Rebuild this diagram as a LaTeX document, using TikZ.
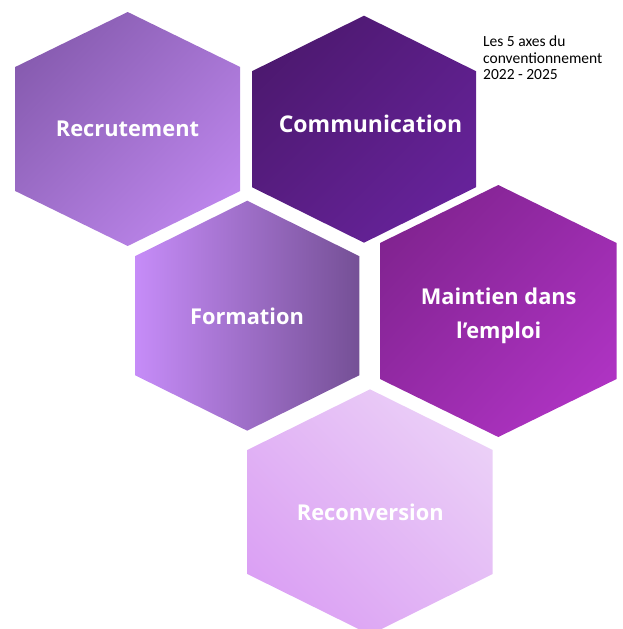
\documentclass[tikz,border=0pt]{standalone}
\usepackage{fontspec}
\usetikzlibrary{shadings}
\setmainfont{Open Sans}
\newfontfamily\notefont{Carlito}
\definecolor{hAul}{HTML}{7E54A6}
\definecolor{hAmid}{HTML}{A272CE}
\definecolor{hAlr}{HTML}{C68CF6}
\definecolor{hBul}{HTML}{481768}
\definecolor{hBmid}{HTML}{5A1E85}
\definecolor{hBlr}{HTML}{6B24A2}
\definecolor{hCl}{HTML}{C68CF8}
\definecolor{hCr}{HTML}{755096}
\definecolor{hDul}{HTML}{7A2188}
\definecolor{hDmid}{HTML}{982BAA}
\definecolor{hDlr}{HTML}{B636CB}
\definecolor{hEur}{HTML}{EED8F8}
\definecolor{hEmid}{HTML}{E3B8F5}
\definecolor{hEll}{HTML}{D898F3}
\newcommand\hexpath[5]{(#1,#2-#4) -- (#1+#3,#2-#5) -- (#1+#3,#2+#5) -- (#1,#2+#4) -- (#1-#3,#2+#5) -- (#1-#3,#2-#5) -- cycle}
\tikzset{
  hexlabel/.style={text=white, font=\fontsize{21.8}{34}\selectfont\bfseries, inner sep=0pt, align=center},
  notelabel/.style={text=black, font=\notefont\fontsize{15.5}{16.7}\selectfont, inner sep=0pt, align=left}
}
\begin{document}
\begin{tikzpicture}[x=1pt,y=-1pt]
\useasboundingbox (0,0) rectangle (623,629);
\clip (0,0) rectangle (623,629);
\shade[upper left=hAul, upper right=hAmid, lower left=hAmid, lower right=hAlr] \hexpath{127.7}{129}{112.5}{117}{62};
\shade[upper left=hBul, upper right=hBmid, lower left=hBmid, lower right=hBlr] \hexpath{364}{129.2}{112}{113.5}{58};
\shade[left color=hCl, right color=hCr] \hexpath{247.2}{315.7}{112.2}{115}{59.5};
\shade[upper left=hDul, upper right=hDmid, lower left=hDmid, lower right=hDlr] \hexpath{498.3}{311}{118.3}{126}{68};
\shade[upper left=hEmid, upper right=hEur, lower left=hEll, lower right=hEmid] \hexpath{370}{512}{122.7}{122.7}{62};
\node[hexlabel, anchor=base] (recrutement) at (127.5,136.7) {Recrutement};
\node[hexlabel, anchor=base, font=\fontsize{23}{34}\selectfont\bfseries] (communication) at (370.5,132.7) {Communication};
\node[hexlabel, anchor=base] (formation) at (247,324) {Formation};
\node[hexlabel, anchor=center] (maintien) at (498.7,315.7) {Maintien dans\\l’emploi};
\node[hexlabel, anchor=base] (reconversion) at (370.3,520.7) {Reconversion};
\node[notelabel, anchor=north west] (note) at (483,35.5) {Les 5 axes du\\conventionnement\\2022 - 2025};
\end{tikzpicture}
\end{document}
